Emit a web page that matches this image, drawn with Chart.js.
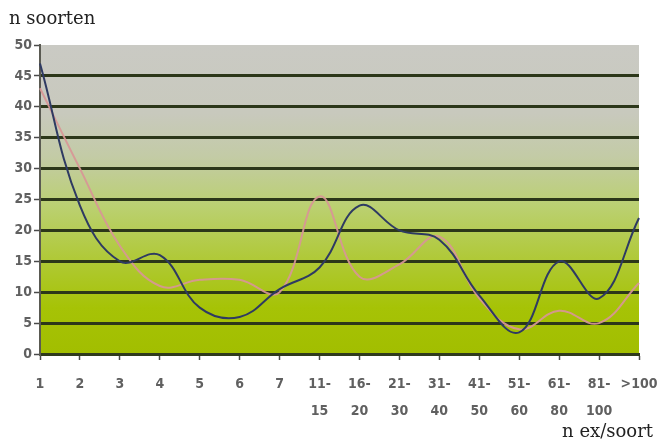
<!DOCTYPE html>
<html>
<head>
<meta charset="utf-8">
<script src="https://cdn.jsdelivr.net/npm/chart.js@4/dist/chart.umd.min.js"></script>
<style>
  html, body { margin: 0; padding: 0; background: #fff; }
  #wrap { width: 658px; height: 443px; position: relative; }
</style>
</head>
<body>
<div id="wrap"><canvas id="c" width="658" height="443"></canvas></div>
<script>
// Abundance classes (number of specimens per species)
const categories = [
  '1', '2', '3', '4', '5', '6', '7',
  ['11-', '15'], ['16-', '20'], ['21-', '30'], ['31-', '40'],
  ['41-', '50'], ['51-', '60'], ['61-', '80'], ['81-', '100'], '>100'
];

// Number of species per abundance class
const seriesDark = [47, 24, 15, 16, 7.5, 6, 10.5, 14, 24, 20, 18.5, 9.5, 3.5, 15, 9, 22];
const seriesRose = [43, 30, 17.5, 11, 12, 12, 10, 25.5, 12.5, 14.5, 19, 9, 4, 7, 5, 11.5];

const yTicks = [0, 5, 10, 15, 20, 25, 30, 35, 40, 45, 50];

const yTitle = 'n soorten';
const xTitle = 'n ex/soort';

const tickFamily = "'DejaVu Sans Condensed', 'DejaVu Sans', sans-serif";

// Plot background: grey at the top fading into lime green at the bottom
const backdrop = {
  id: 'backdrop',
  beforeDraw(chart) {
    const { ctx, chartArea: a } = chart;
    const g = ctx.createLinearGradient(0, a.top, 0, a.bottom);
    g.addColorStop(0.00, '#cacac4');
    g.addColorStop(0.22, '#c8c9bd');
    g.addColorStop(0.36, '#c3cba6');
    g.addColorStop(0.52, '#bbd072');
    g.addColorStop(0.72, '#aec82e');
    g.addColorStop(0.85, '#a6c306');
    g.addColorStop(1.00, '#a2be00');
    ctx.save();
    ctx.fillStyle = g;
    ctx.fillRect(a.left, a.top, a.right - a.left, a.bottom - a.top);
    ctx.restore();
  }
};

// Axis captions in a serif face
const captions = {
  id: 'captions',
  afterDraw(chart) {
    const { ctx } = chart;
    ctx.save();
    ctx.fillStyle = '#222';
    ctx.font = "18px 'DejaVu Serif', 'Liberation Serif', serif";
    ctx.textBaseline = 'alphabetic';
    ctx.textAlign = 'left';
    ctx.fillText(yTitle, 9, 24);
    ctx.textAlign = 'right';
    ctx.fillText(xTitle, 653, 437);
    ctx.restore();
  }
};

new Chart(document.getElementById('c'), {
  type: 'line',
  data: {
    labels: categories,
    datasets: [
      {
        label: 'a',
        data: seriesDark,
        borderColor: '#2e3a62',
        borderWidth: 2,
        tension: 0.4,
        pointRadius: 0,
        fill: false,
        order: 0
      },
      {
        label: 'b',
        data: seriesRose,
        borderColor: 'rgba(216,150,150,0.92)',
        borderWidth: 2,
        tension: 0.4,
        pointRadius: 0,
        fill: false,
        order: 1
      }
    ]
  },
  options: {
    responsive: false,
    animation: false,
    devicePixelRatio: 1,
    layout: { padding: { top: 45, right: 19, left: 0, bottom: 0 } },
    plugins: {
      legend: { display: false },
      tooltip: { enabled: false },
      title: { display: false }
    },
    scales: {
      x: {
        offset: false,
        afterFit(s) { s.height = 89; s.paddingLeft = 0; s.paddingRight = 0; },
        grid: {
          drawOnChartArea: false,
          drawTicks: true,
          tickLength: 6,
          tickColor: '#4a4a4a',
          tickWidth: 1.5
        },
        border: { display: true, color: '#2f3a1c', width: 3 },
        ticks: {
          color: '#606060',
          font: { family: tickFamily, size: 14, weight: 'bold', lineHeight: 1.9 },
          padding: 11,
          maxRotation: 0,
          autoSkip: false
        }
      },
      y: {
        min: 0,
        max: 50,
        afterFit(s) { s.width = 40; },
        afterBuildTicks(s) { s.ticks = yTicks.map(v => ({ value: v })); },
        grid: {
          color: (c) => (c.tick && c.tick.value === 50 ? 'rgba(0,0,0,0)' : '#2c3719'),
          lineWidth: 3,
          drawTicks: true,
          tickLength: 6,
          tickColor: '#4a4a4a',
          tickWidth: 1.5
        },
        border: { display: true, color: '#5a5a52', width: 2 },
        ticks: {
          color: '#606060',
          font: { family: tickFamily, size: 14, weight: 'bold' },
          padding: 2
        }
      }
    }
  },
  plugins: [backdrop, captions]
});
</script>
</body>
</html>
